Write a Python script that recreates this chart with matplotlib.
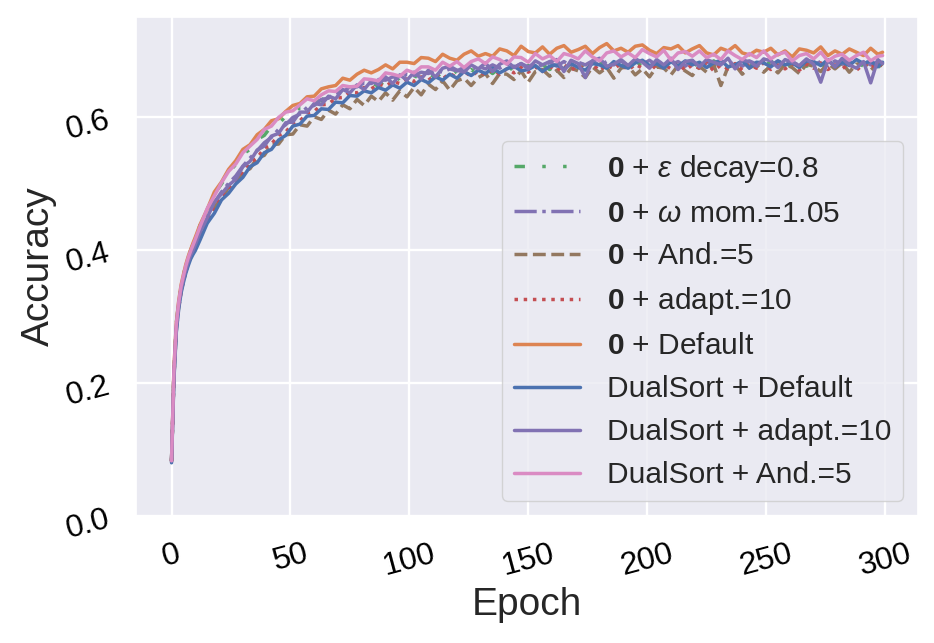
import numpy as np
import matplotlib
matplotlib.use("Agg")
import matplotlib.pyplot as plt
import seaborn as sns

epochs = list(range(0, 11)) + list(range(12, 298, 3)) + [299]

eps_decay = [.083,.219,.289,.322,.346,.362,.377,.389,.399,.408,.417,
    .437,.460,.484,.499,.517,.528,.544,.551,.566,.572,
    .586,.589,.601,.603,.614,.614,.625,.624,.634,.632,
    .641,.638,.647,.643,.651,.646,.655,.650,.659,.653,
    .662,.656,.665,.659,.667,.661,.669,.662,.671,.664,
    .673,.665,.674,.667,.676,.668,.677,.669,.678,.671,
    .679,.672,.681,.673,.680,.674,.682,.673,.681,.675,
    .683,.674,.682,.676,.684,.675,.682,.674,.683,.676,
    .681,.673,.684,.675,.682,.674,.683,.676,.681,.673,
    .684,.675,.682,.674,.683,.676,.681,.673,.684,.675,
    .682,.674,.683,.676,.681,.674,.680]

omega_mom = [.083,.214,.284,.318,.342,.358,.372,.384,.394,.401,.411,
    .429,.451,.471,.487,.500,.511,.526,.538,.549,.561,
    .569,.581,.588,.599,.604,.614,.617,.626,.628,.636,
    .637,.645,.645,.651,.650,.656,.655,.660,.658,.664,
    .662,.667,.665,.670,.667,.672,.669,.674,.671,.676,
    .672,.678,.673,.679,.674,.680,.675,.681,.676,.682,
    .676,.683,.677,.682,.678,.684,.677,.683,.678,.684,
    .676,.683,.679,.685,.677,.684,.678,.683,.676,.684,
    .678,.683,.677,.685,.678,.683,.676,.684,.679,.683,
    .677,.684,.678,.683,.677,.685,.678,.683,.677,.684,
    .679,.683,.677,.684,.678,.683,.680]

anderson = [.082,.210,.280,.314,.338,.354,.368,.379,.389,.397,.404,
    .422,.442,.464,.476,.494,.501,.517,.522,.538,.542,
    .558,.559,.573,.574,.588,.586,.600,.596,.610,.604,
    .618,.612,.626,.617,.631,.623,.636,.625,.639,.630,
    .644,.633,.649,.641,.654,.640,.654,.658,.647,.659,
    .665,.650,.665,.664,.656,.669,.652,.668,.671,.661,
    .670,.659,.673,.669,.659,.675,.666,.674,.658,.673,
    .676,.663,.672,.660,.675,.673,.663,.677,.669,.662,
    .676,.667,.678,.647,.675,.678,.664,.674,.678,.667,
    .677,.666,.679,.674,.665,.679,.676,.668,.680,.672,
    .681,.667,.679,.681,.670,.680,.679]

adapt = [.082,.209,.279,.313,.337,.353,.367,.379,.389,.396,.403,
    .420,.445,.461,.481,.489,.504,.515,.531,.538,.553,
    .559,.572,.577,.590,.594,.605,.608,.618,.619,.628,
    .629,.637,.636,.644,.642,.649,.646,.653,.650,.657,
    .653,.660,.655,.663,.657,.665,.659,.668,.661,.669,
    .663,.671,.664,.672,.666,.674,.667,.675,.668,.676,
    .669,.678,.670,.677,.671,.679,.669,.678,.672,.680,
    .670,.679,.673,.681,.671,.679,.672,.680,.670,.678,
    .673,.681,.669,.678,.672,.680,.670,.679,.673,.681,
    .671,.678,.672,.680,.670,.679,.673,.681,.671,.678,
    .672,.680,.670,.679,.673,.681,.676]

default = [.083,.222,.290,.323,.347,.363,.378,.390,.400,.410,.419,
    .438,.461,.487,.502,.521,.534,.551,.558,.573,.581,
    .594,.597,.608,.617,.620,.630,.631,.642,.645,.647,
    .658,.655,.664,.670,.666,.671,.678,.672,.682,.682,
    .680,.689,.688,.683,.694,.688,.685,.694,.699,.691,
    .695,.691,.702,.699,.692,.706,.698,.696,.705,.694,
    .703,.707,.697,.701,.706,.695,.704,.710,.699,.703,
    .697,.706,.708,.700,.695,.704,.702,.707,.696,.702,
    .707,.696,.693,.703,.699,.707,.696,.693,.700,.697,
    .703,.693,.699,.690,.702,.700,.696,.705,.692,.699,
    .694,.702,.697,.692,.703,.694,.697]

ds_default = [.080,.205,.276,.311,.335,.351,.365,.376,.386,.393,.399,
    .415,.440,.455,.475,.485,.499,.509,.525,.531,.546,
    .551,.565,.572,.586,.589,.601,.602,.612,.611,.622,
    .621,.632,.631,.639,.636,.644,.640,.648,.643,.652,
    .647,.656,.651,.660,.655,.664,.658,.668,.662,.670,
    .665,.673,.666,.672,.676,.669,.671,.677,.668,.676,
    .678,.672,.680,.674,.670,.680,.678,.673,.683,.677,
    .673,.681,.685,.677,.680,.673,.683,.676,.684,.678,
    .682,.674,.681,.685,.675,.678,.684,.673,.682,.681,
    .675,.684,.678,.681,.674,.684,.683,.677,.686,.675,
    .682,.677,.686,.680,.684,.675,.682]

ds_adapt = [.083,.212,.282,.316,.340,.356,.370,.382,.392,.399,.408,
    .427,.448,.472,.484,.497,.506,.525,.533,.550,.556,
    .571,.575,.591,.592,.607,.607,.620,.618,.631,.627,
    .641,.636,.648,.641,.654,.648,.660,.650,.663,.655,
    .667,.657,.670,.660,.673,.676,.670,.667,.678,.672,
    .681,.668,.679,.684,.674,.680,.672,.684,.678,.683,
    .686,.668,.685,.680,.659,.684,.688,.676,.679,.686,
    .677,.687,.682,.673,.686,.678,.688,.671,.683,.685,
    .675,.686,.682,.678,.688,.672,.685,.683,.676,.687,
    .684,.674,.686,.682,.677,.687,.679,.652,.685,.675,
    .688,.678,.673,.683,.651,.686,.680]

ds_anderson = [.083,.218,.288,.321,.345,.361,.376,.388,.398,.407,.416,
    .435,.462,.481,.501,.518,.529,.546,.556,.566,.581,
    .586,.599,.607,.609,.618,.627,.624,.633,.639,.638,
    .647,.645,.646,.657,.656,.654,.666,.664,.661,.670,
    .666,.675,.675,.670,.682,.676,.683,.674,.683,.687,
    .680,.690,.686,.679,.690,.689,.682,.695,.687,.692,
    .683,.695,.692,.687,.699,.690,.684,.696,.699,.690,
    .696,.689,.701,.695,.690,.700,.685,.696,.698,.691,
    .699,.689,.694,.686,.699,.692,.686,.695,.689,.699,
    .687,.694,.697,.684,.692,.695,.687,.697,.684,.691,
    .694,.685,.692,.697,.684,.691,.692]

sns.set_theme(style="darkgrid")
plt.rcParams['font.family'] = ['Liberation Sans', 'DejaVu Sans']
plt.rcParams['mathtext.fontset'] = 'custom'
plt.rcParams['mathtext.rm'] = 'Liberation Sans'
plt.rcParams['mathtext.it'] = 'Liberation Sans:italic'
plt.rcParams['mathtext.bf'] = 'Liberation Sans:bold'
plt.rcParams['grid.linewidth'] = 1.7

fig, ax = plt.subplots(figsize=(9.34, 6.43), dpi=100)
fig.subplots_adjust(left=0.1456, right=0.983, bottom=0.1975, top=0.9736)

lw = 2.5
ax.plot(epochs, eps_decay, color='#55a868', lw=lw, ls=(0, (3, 5, 1, 5, 1, 5)),
        label=r'$\mathbf{0}$ + $\varepsilon$ decay=0.8')
ax.plot(epochs, omega_mom, color='#8172b3', lw=lw, ls='-.',
        label=r'$\mathbf{0}$ + $\omega$ mom.=1.05')
ax.plot(epochs, anderson, color='#937860', lw=lw, ls='--',
        label=r'$\mathbf{0}$ + And.=5')
ax.plot(epochs, adapt, color='#c44e52', lw=lw, ls=':',
        label=r'$\mathbf{0}$ + adapt.=10')
ax.plot(epochs, default, color='#dd8452', lw=lw,
        label=r'$\mathbf{0}$ + Default')
ax.plot(epochs, ds_default, color='#4c72b0', lw=lw, label='DualSort + Default')
ax.plot(epochs, ds_adapt, color='#8172b3', lw=lw, label='DualSort + adapt.=10')
ax.plot(epochs, ds_anderson, color='#da8bc3', lw=lw, label='DualSort + And.=5')

ax.set_ylim(0, 0.75)
ax.set_yticks([0.0, 0.2, 0.4, 0.6])
ax.set_xticks([0, 50, 100, 150, 200, 250, 300])
ax.tick_params(axis='both', labelsize=23, labelcolor='black', pad=10.5)
plt.setp(ax.get_xticklabels(), rotation=15)
plt.setp(ax.get_yticklabels(), rotation=15)
ax.set_xlabel('Epoch', fontsize=28)
ax.set_ylabel('Accuracy', fontsize=28)

ax.legend(loc='lower right', fontsize=21.5, handlelength=2.2, handletextpad=0.9)

fig.savefig('out.png', dpi=100)
